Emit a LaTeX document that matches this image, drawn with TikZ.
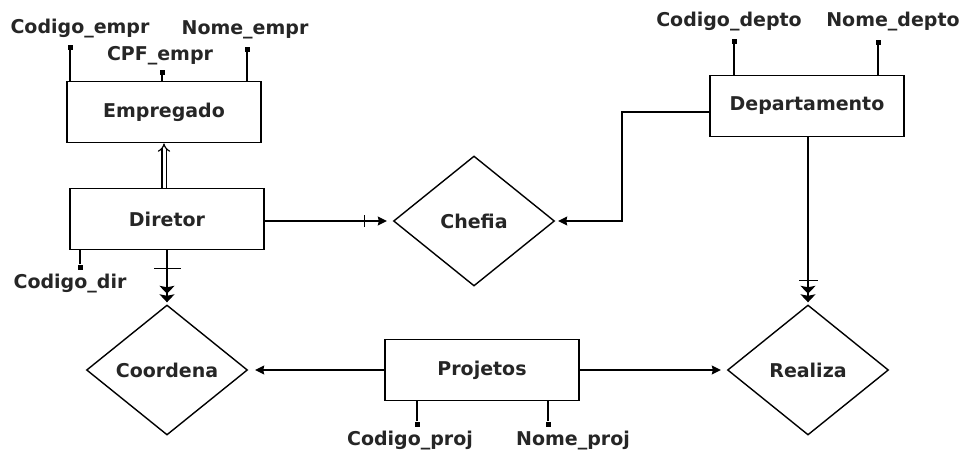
\documentclass[tikz,border=0pt]{standalone}
\usepackage{fontspec}
\setmainfont{DejaVu Sans}
\usetikzlibrary{shapes.geometric,arrows.meta}
\begin{document}
\begin{tikzpicture}[x=1pt,y=-1pt,
  every node/.style={font=\fontsize{19}{22}\selectfont\bfseries, text=black!85},
  ent/.style={draw,line width=1.8pt,minimum width=194pt,minimum height=61pt,inner sep=0pt},
  rel/.style={draw,diamond,line width=1.4pt,minimum width=161pt,minimum height=130pt,inner sep=0pt},
  attr/.style={fill=black,draw=none,minimum size=5pt,inner sep=0pt},
  lab/.style={inner sep=0pt},
  conn/.style={line width=1.3pt},
  arr/.style={conn,-{Stealth[length=9pt,width=9pt,inset=1pt]}},
  many/.style={conn,-{Stealth[length=8pt,width=15pt,inset=1.5pt,sep=0.5pt]Stealth[length=8pt,width=15pt,inset=1.5pt]}},
  tick/.style={line width=1.3pt}
]
\useasboundingbox (0,0) rectangle (971,453);
\fill[white] (0,0) rectangle (971,453);

% entities
\node[ent] (Emp) at (164,112) {Empregado};
\node[ent] (Dep) at (807,106) {Departamento};
\node[ent] (Dir) at (167,219) {Diretor};
\node[ent] (Pro) at (482,370) {Projetos};

% relationships
\node[rel] (Che) at (474,221) {Chefia};
\node[rel] (Coo) at (167,370) {Coordena};
\node[rel] (Rea) at (808,370) {Realiza};

% Empregado attributes
\node[attr] (aCE) at (70,47) {};
\node[attr] (aCPF) at (162,72) {};
\node[attr] (aNE) at (247,49) {};
\node[lab] (lCE) at (80,29) {Codigo\_empr};
\node[lab] (lCPF) at (160,56) {CPF\_empr};
\node[lab] (lNE) at (245,30) {Nome\_empr};
\draw[conn] (aCE) -- (aCE |- Emp.north);
\draw[conn] (aCPF) -- (aCPF |- Emp.north);
\draw[conn] (aNE) -- (aNE |- Emp.north);

% Departamento attributes
\node[attr] (aCD) at (734,41) {};
\node[attr] (aND) at (878,42) {};
\node[lab] (lCD) at (729,22) {Codigo\_depto};
\node[lab] (lND) at (893,22) {Nome\_depto};
\draw[conn] (aCD) -- (aCD |- Dep.north);
\draw[conn] (aND) -- (aND |- Dep.north);

% Diretor attribute
\node[attr] (aCDir) at (80,267) {};
\node[lab] (lCDir) at (70,284) {Codigo\_dir};
\draw[conn] (aCDir) -- (aCDir |- Dir.south);

% Projetos attributes
\node[attr] (aCP) at (417,424) {};
\node[attr] (aNP) at (548,424) {};
\node[lab] (lCP) at (410,441) {Codigo\_proj};
\node[lab] (lNP) at (573,441) {Nome\_proj};
\draw[conn] (aCP) -- (aCP |- Pro.south);
\draw[conn] (aNP) -- (aNP |- Pro.south);

% Diretor is-a Empregado
\draw[double,double distance=3pt,line width=1.2pt,-{Implies[length=7pt,width=16pt]}] (Emp.south |- Dir.north) -- (Emp.south);

% Diretor -> Chefia
\draw[arr,shorten >=6pt] (Dir.east |- Che.west) -- (Che.west);
\draw[tick] ([xshift=-28pt,yshift=-6pt]Che.west) -- ([xshift=-28pt,yshift=6pt]Che.west);

% Departamento -> Chefia
\coordinate (bend) at ([xshift=-87pt,yshift=-6pt]Dep.west);
\draw[arr,shorten >=3pt] ([yshift=-6pt]Dep.west) -- (bend) |- (Che.east);

% Diretor -> Coordena
\draw[many,shorten >=2pt] (Dir.south) -- (Coo.north);
\draw[tick] ([xshift=-13pt,yshift=36pt]Coo.north) -- ([xshift=14pt,yshift=36pt]Coo.north);

% Departamento -> Realiza
\draw[many,shorten >=2pt] (Rea.north |- Dep.south) -- (Rea.north);
\draw[tick] ([xshift=-9pt,yshift=24pt]Rea.north) -- ([xshift=10pt,yshift=24pt]Rea.north);

% Projetos -> Coordena, Realiza
\draw[arr,shorten >=7pt] (Pro.west) -- (Coo.east);
\draw[arr,shorten >=6pt] (Pro.east) -- (Rea.west);
\end{tikzpicture}
\end{document}
